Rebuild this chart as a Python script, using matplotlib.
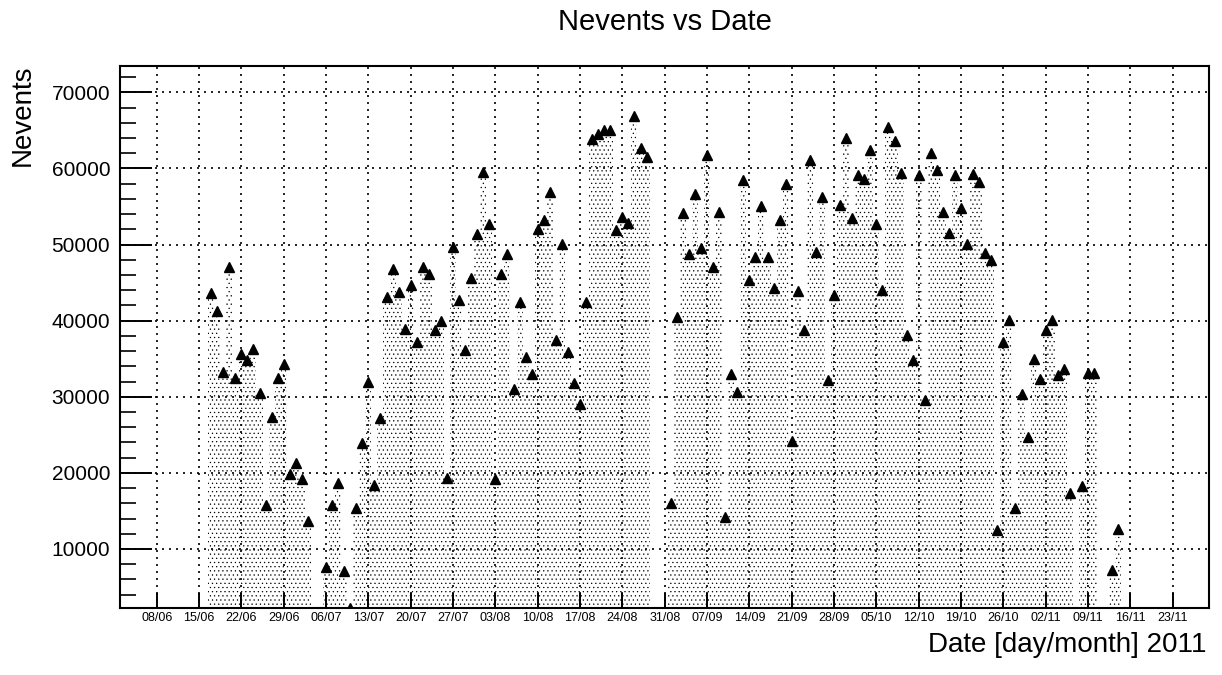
import datetime as dt
import matplotlib
matplotlib.use("Agg")
import matplotlib.pyplot as plt
import matplotlib.dates as mdates
from matplotlib.ticker import MultipleLocator, FixedLocator

plt.rcParams['font.family'] = ['Liberation Sans', 'DejaVu Sans']
plt.rcParams['hatch.linewidth'] = 0.4

# ---- data (day/month, 2011) ----
dates = [
    "17/06", "18/06", "19/06", "20/06", "21/06", "22/06", "23/06", "24/06", "25/06", "26/06",
    "27/06", "28/06", "29/06", "30/06", "01/07", "02/07", "03/07",
    "06/07", "07/07", "08/07", "09/07", "10/07", "11/07", "12/07", "13/07", "14/07", "15/07",
    "16/07", "17/07", "18/07", "19/07", "20/07", "21/07", "22/07", "23/07", "24/07", "25/07",
    "26/07", "27/07", "28/07", "29/07", "30/07", "31/07", "01/08", "02/08", "03/08", "04/08",
    "05/08", "06/08", "07/08", "08/08", "09/08", "10/08", "11/08", "12/08", "13/08", "14/08",
    "15/08", "16/08", "17/08", "18/08", "19/08", "20/08", "21/08", "22/08", "23/08", "24/08",
    "25/08", "26/08", "27/08", "28/08",
    "01/09", "02/09", "03/09", "04/09", "05/09", "06/09", "07/09", "08/09", "09/09", "10/09",
    "11/09", "12/09", "13/09", "14/09", "15/09", "16/09", "17/09", "18/09", "19/09", "20/09",
    "21/09", "22/09", "23/09", "24/09", "25/09", "26/09", "27/09", "28/09", "29/09", "30/09",
    "01/10", "02/10", "03/10", "04/10", "05/10", "06/10", "07/10", "08/10", "09/10", "10/10",
    "11/10", "12/10", "13/10", "14/10", "15/10", "16/10", "17/10", "18/10", "19/10", "20/10",
    "21/10", "22/10", "23/10", "24/10", "25/10", "26/10", "27/10", "28/10", "29/10", "30/10",
    "31/10", "01/11", "02/11", "03/11", "04/11", "05/11", "06/11",
    "08/11", "09/11", "10/11",
    "13/11", "14/11",
]
nevents = [
    43680, 41230, 33250, 47050, 32510, 35580, 34790, 36280, 30540, 15820,
    27340, 32470, 34350, 19850, 21250, 19150, 13630,
    7590, 15730, 18710, 7060, 2290, 15430, 23970, 31900, 18440, 27220,
    43080, 46780, 43730, 38920, 44650, 37160, 47110, 46180, 38780, 39940,
    19360, 49740, 42710, 36100, 45580, 51410, 59590, 52750, 19220, 46090,
    48730, 31050, 42440, 35250, 32940, 52000, 53250, 56850, 37420, 50020,
    35940, 31790, 29020, 42400, 63860, 64510, 65110, 65110, 51860, 53620,
    52880, 66950, 62710, 61510,
    16050, 40480, 54170, 48720, 56620, 49560, 61790, 47110, 54260, 14160,
    33030, 30590, 58420, 45310, 48310, 55090, 48400, 44340, 53200, 57950,
    24170, 43920, 38710, 61140, 48960, 56300, 32250, 43330, 55230, 63950,
    53480, 59110, 58550, 62430, 52650, 44020, 65480, 63630, 59390, 38160,
    34880, 59110, 29570, 62020, 59800, 54310, 51490, 59150, 54770, 50130,
    59300, 58230, 48860, 47940, 12500, 37190, 40090, 15400, 30310, 24770,
    34930, 32340, 38770, 40020, 32800, 33630, 17390,
    18310, 33170, 33170,
    7190, 12640,
]
tick_labels = ["08/06", "15/06", "22/06", "29/06", "06/07", "13/07", "20/07", "27/07",
               "03/08", "10/08", "17/08", "24/08", "31/08", "07/09", "14/09", "21/09",
               "28/09", "05/10", "12/10", "19/10", "26/10", "02/11", "09/11", "16/11", "23/11"]
x_range = ["02/06", "29/11"]
y_range = [2200, 73500]
YEAR = 2011


def to_num(s):
    d, m = s.split("/")
    return mdates.date2num(dt.datetime(YEAR, int(m), int(d)))


x = [to_num(s) for s in dates]
xt = [to_num(s) for s in tick_labels]

fig = plt.figure(figsize=(12.22, 6.75), dpi=100)
ax = fig.add_axes([120 / 1222, 1 - 608.3 / 675, (1209 - 120) / 1222, (608.3 - 65.7) / 675])

ax.bar(x, nevents, width=1.0, bottom=0, align='center', facecolor='none',
       edgecolor='black', linewidth=0, hatch='....', zorder=1)
ax.plot(x, nevents, linestyle='none', marker='^', markersize=6.5,
        color='black', zorder=3, clip_on=True)

ax.set_xlim(to_num(x_range[0]) - 0.07, to_num(x_range[1]))
ax.set_ylim(*y_range)

ax.xaxis.set_major_locator(FixedLocator(xt))
ax.set_xticklabels(tick_labels, fontsize=9)
ax.yaxis.set_major_locator(MultipleLocator(10000))
ax.yaxis.set_minor_locator(MultipleLocator(2000))
ax.tick_params(axis='y', which='major', direction='in', length=23, width=1.4,
               labelsize=15, pad=7, right=False)
ax.tick_params(axis='y', which='minor', direction='in', length=11.5, width=1.2, right=False)
ax.tick_params(axis='x', which='major', direction='in', length=11, width=1.4,
               pad=3, top=False)

ax.grid(True, which='major', color='black', linestyle=(0, (1.2, 3.0)), linewidth=1.2, zorder=2)
ax.set_axisbelow(False)
for sp in ax.spines.values():
    sp.set_linewidth(1.5)

fig.text(664.5 / 1222, 1 - 22 / 675, "Nevents vs Date", ha='center', va='center', fontsize=21)
fig.text(23 / 1222, 1 - 65 / 675, "Nevents", rotation=90, ha='center', va='top', fontsize=20)
fig.text(1207 / 1222, 1 - 645 / 675, "Date [day/month] 2011", ha='right', va='center', fontsize=20)

fig.savefig("out.png", dpi=100)
